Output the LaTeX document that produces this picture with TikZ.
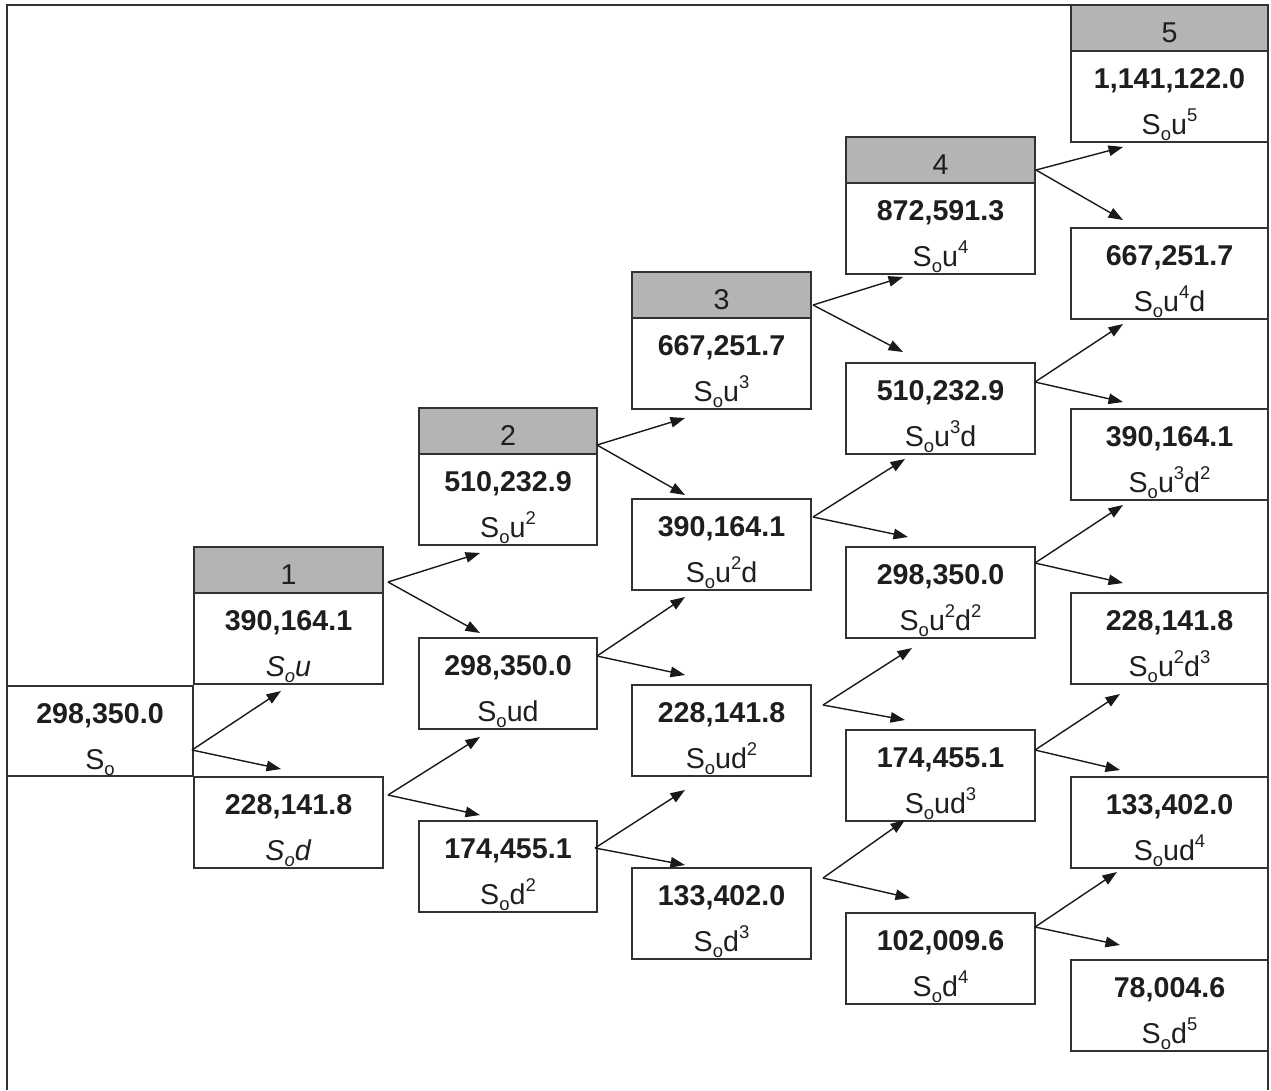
\documentclass[tikz,border=0pt]{standalone}
\usepackage{fontspec}
\setmainfont{Liberation Sans}
\usetikzlibrary{calc,arrows.meta}
\definecolor{hdr}{RGB}{180,180,182}
\definecolor{ln}{RGB}{50,50,50}
\definecolor{tx}{RGB}{30,30,30}
\newcommand\valbox[6]{%
  \node[box, minimum width=#4*0.02cm] (#1) at (#2,#3) {};
  \node[num] (#1v) at ($(#1.north)+(0,37)$) {#5};
  \node[lab] (#1l) at ($(#1.north)+(0,83)$) {#6};}
\newcommand\hdrbox[4]{%
  \node[hbox, minimum width=#3*0.02cm] (#1) at (#2) {};
  \node[lab] (#1t) at ($(#1.north)+(0,37)$) {#4};}
\newcommand\fork[3]{\draw[arr] #1 -- #2; \draw[arr] #1 -- #3;}
\newcommand\So{S\raisebox{-0.4ex}{\fontsize{10.5}{10.5}\selectfont o}}
\newcommand\sps[1]{\raisebox{0.8ex}{\fontsize{10.5}{10.5}\selectfont #1}}
\begin{document}
\begin{tikzpicture}[x=0.02cm,y=-0.02cm,
  box/.style={draw=ln, line width=0.045cm, fill=white, anchor=north west, minimum height=1.82cm, inner sep=0pt, outer sep=0pt},
  hbox/.style={draw=ln, line width=0.045cm, fill=hdr, anchor=south west, minimum height=0.92cm, inner sep=0pt, outer sep=0pt},
  num/.style={anchor=base, font=\fontsize{16.3}{19}\selectfont\bfseries, text=tx, inner sep=0pt},
  lab/.style={anchor=base, font=\fontsize{16.3}{19}\selectfont, text=tx, inner sep=0pt},
  arr/.style={-{Triangle[length=0.29cm,width=0.21cm]}, line width=0.028cm, draw=black!90},
  frame/.style={draw=ln, line width=0.055cm}]
\useasboundingbox (0,0) rectangle (1271,1090);
\fill[white] (0,0) rectangle (1271,1090);
\draw[frame] (7,1090) -- (7,5) -- (1268,5) -- (1268,1090);

% root
\node[box, minimum width=186*0.02cm, minimum height=1.8cm] (r) at (7,686) {};
\node[num] (rv) at ($(r.north)+(0,37)$) {298,350.0};
\node[lab] (rl) at ($(r.north)+(0,83)$) {\So};

% column 1
\valbox{n10}{194}{593}{189}{390,164.1}{\textit{\So u}}
\valbox{n11}{194}{777}{189}{228,141.8}{\textit{\So d}}
\hdrbox{h1}{n10.north west}{189}{1}

% column 2
\valbox{n20}{419}{454}{178}{510,232.9}{\So u\sps{2}}
\valbox{n21}{419}{638}{178}{298,350.0}{\So ud}
\valbox{n22}{419}{821}{178}{174,455.1}{\So d\sps{2}}
\hdrbox{h2}{n20.north west}{178}{2}

% column 3
\valbox{n30}{632}{318}{179}{667,251.7}{\So u\sps{3}}
\valbox{n31}{632}{499}{179}{390,164.1}{\So u\sps{2}d}
\valbox{n32}{632}{685}{179}{228,141.8}{\So ud\sps{2}}
\valbox{n33}{632}{868}{179}{133,402.0}{\So d\sps{3}}
\hdrbox{h3}{n30.north west}{179}{3}

% column 4
\valbox{n40}{846}{183}{189}{872,591.3}{\So u\sps{4}}
\valbox{n41}{846}{363}{189}{510,232.9}{\So u\sps{3}d}
\valbox{n42}{846}{547}{189}{298,350.0}{\So u\sps{2}d\sps{2}}
\valbox{n43}{846}{730}{189}{174,455.1}{\So ud\sps{3}}
\valbox{n44}{846}{913}{189}{102,009.6}{\So d\sps{4}}
\hdrbox{h4}{n40.north west}{189}{4}

% column 5
\valbox{n50}{1071}{51}{197}{1,141,122.0}{\So u\sps{5}}
\valbox{n51}{1071}{228}{197}{667,251.7}{\So u\sps{4}d}
\valbox{n52}{1071}{409}{197}{390,164.1}{\So u\sps{3}d\sps{2}}
\valbox{n53}{1071}{593}{197}{228,141.8}{\So u\sps{2}d\sps{3}}
\valbox{n54}{1071}{777}{197}{133,402.0}{\So ud\sps{4}}
\valbox{n55}{1071}{960}{197}{78,004.6}{\So d\sps{5}}
\hdrbox{h5}{n50.north west}{197}{5}

% arrows
\fork{($(r.north east)+(-1,64)$)}{($(n10.south west)+(87,7)$)}{($(n11.north west)+(87,-8)$)}
\fork{($(h1.south east)+(5,-11)$)}{($(n20.south west)+(61,8)$)}{($(n21.north west)+(61,-5)$)}
\fork{($(n11.north east)+(5,18)$)}{($(n21.south west)+(61,8)$)}{($(n22.north west)+(61,-6)$)}
\fork{($(h2.south east)+(0,-9)$)}{($(n30.south west)+(53,9)$)}{($(n31.north west)+(53,-4)$)}
\fork{($(n21.north east)+(0,18)$)}{($(n31.south west)+(53,7)$)}{($(n32.north west)+(53,-10)$)}
\fork{($(n22.north east)+(-2,27)$)}{($(n32.south west)+(53,14)$)}{($(n33.north west)+(53,-3)$)}
\fork{($(h3.south east)+(2,-13)$)}{($(n40.south west)+(57,3)$)}{($(n41.north west)+(57,-11)$)}
\fork{($(n31.north east)+(2,18)$)}{($(n41.south west)+(59,5)$)}{($(n42.north west)+(62,-10)$)}
\fork{($(n32.north east)+(12,20)$)}{($(n42.south west)+(66,10)$)}{($(n43.north west)+(59,-10)$)}
\fork{($(n33.north east)+(12,10)$)}{($(n43.south west)+(59,-1)$)}{($(n44.north west)+(64,-15)$)}
\fork{($(h4.south east)+(1,-13)$)}{($(n50.south west)+(52,5)$)}{($(n51.north west)+(52,-8)$)}
\fork{($(n41.north east)+(0,19)$)}{($(n51.south west)+(52,5)$)}{($(n52.north west)+(52,-7)$)}
\fork{($(n42.north east)+(0,16)$)}{($(n52.south west)+(52,5)$)}{($(n53.north west)+(52,-10)$)}
\fork{($(n43.north east)+(0,20)$)}{($(n53.south west)+(49,10)$)}{($(n54.north west)+(49,-7)$)}
\fork{($(n44.north east)+(0,14)$)}{($(n54.south west)+(46,4)$)}{($(n55.north west)+(49,-15)$)}
\end{tikzpicture}
\end{document}
